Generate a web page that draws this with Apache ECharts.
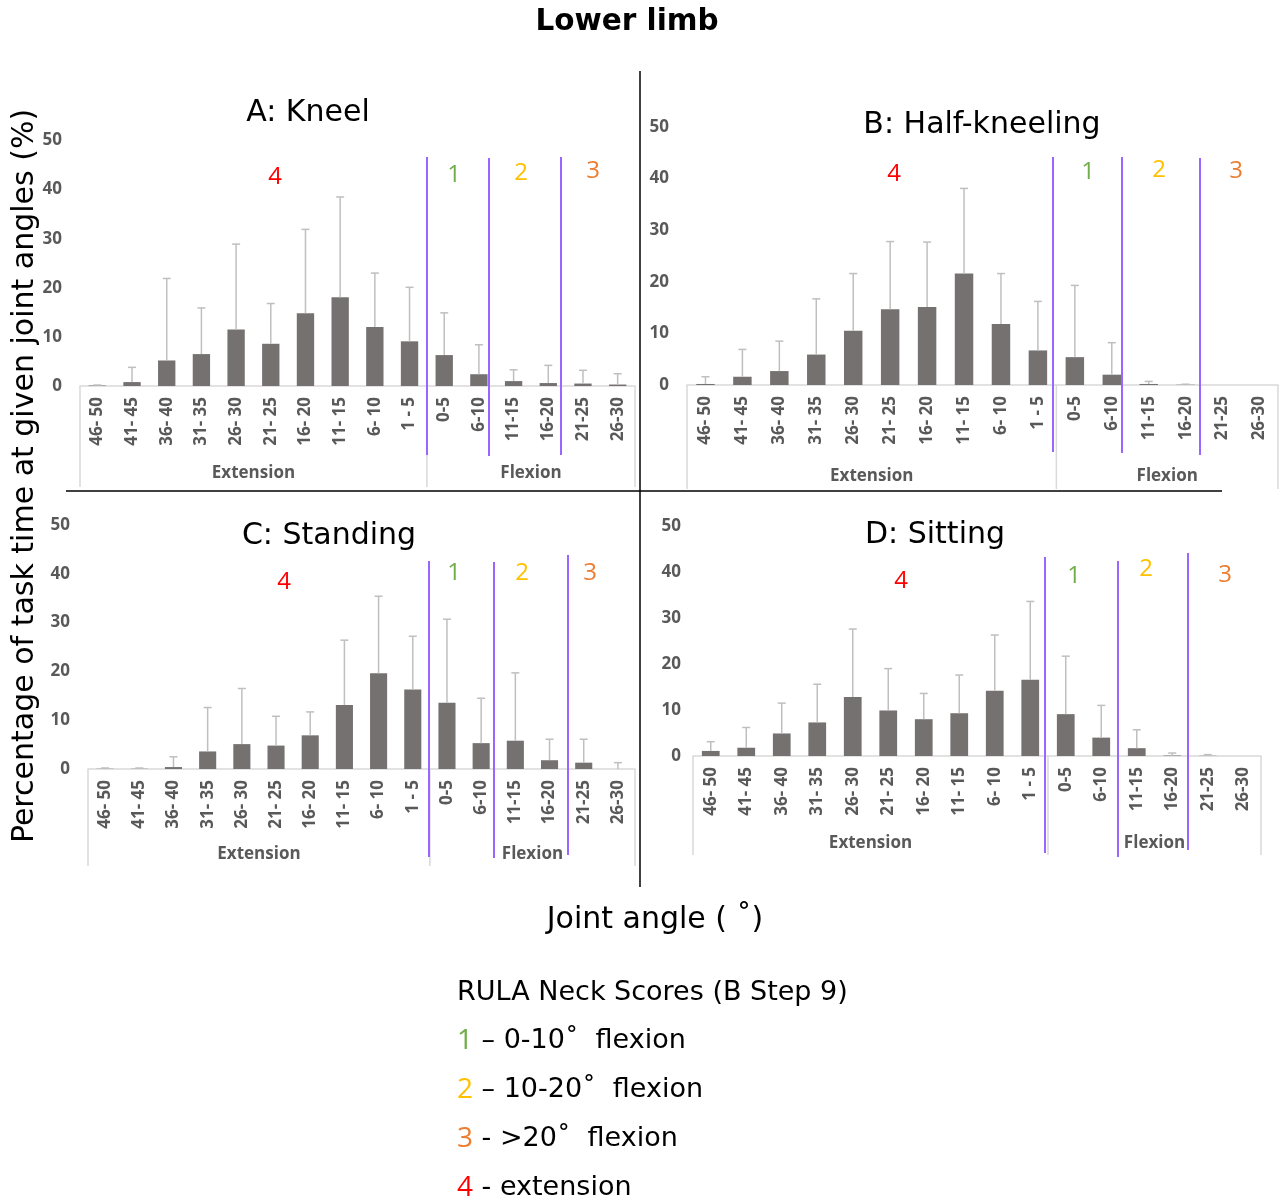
<!DOCTYPE html>
<html>
<head>
<meta charset="utf-8">
<script src="https://cdn.jsdelivr.net/npm/echarts@6/dist/echarts.min.js"></script>
<style>
  html, body { margin: 0; padding: 0; background: #ffffff; }
  #chart { width: 1284px; height: 1200px; }
</style>
</head>
<body>
<div id="chart"></div>
<script>
// ---------------- DATA ----------------
const categories = ['46- 50','41- 45','36- 40','31- 35','26- 30','21- 25','16- 20','11- 15','6- 10','1 - 5','0-5','6-10','11-15','16-20','21-25','26-30'];
const groupNames = ['Extension', 'Flexion'];
const groupRanges = [[0, 10], [10, 16]];
const yTicks = [0, 10, 20, 30, 40, 50];

const panelTitles = ['A: Kneel', 'B: Half-kneeling', 'C: Standing', 'D: Sitting'];

// mean % of task time
const kneelMean    = [0.1, 0.8, 5.2, 6.5, 11.5, 8.6, 14.8, 18.1, 12.0, 9.1, 6.3, 2.4, 1.0, 0.6, 0.5, 0.3];
// mean + SD (top of error bar)
const kneelTop     = [0.2, 3.8, 21.9, 15.9, 28.9, 16.8, 31.9, 38.5, 23.0, 20.1, 14.9, 8.4, 3.3, 4.2, 3.2, 2.5];

const halfMean     = [0.2, 1.6, 2.7, 5.9, 10.5, 14.7, 15.1, 21.6, 11.8, 6.7, 5.4, 2.0, 0.2, 0.05, 0, 0];
const halfTop      = [1.6, 6.9, 8.5, 16.7, 21.6, 27.8, 27.7, 38.1, 21.6, 16.2, 19.3, 8.2, 0.7, 0.15, 0, 0];

const standMean    = [0.05, 0.05, 0.4, 3.6, 5.1, 4.8, 6.9, 13.1, 19.6, 16.3, 13.6, 5.3, 5.8, 1.8, 1.3, 0];
const standTop     = [0.2, 0.2, 2.5, 12.6, 16.5, 10.8, 11.7, 26.4, 35.4, 27.2, 30.7, 14.5, 19.7, 6.1, 6.1, 1.3];

const sitMean      = [1.1, 1.8, 4.9, 7.3, 12.8, 9.9, 8.0, 9.3, 14.2, 16.6, 9.1, 4.0, 1.7, 0.1, 0.05, 0];
const sitTop       = [3.1, 6.2, 11.5, 15.6, 27.6, 19.0, 13.6, 17.6, 26.3, 33.6, 21.7, 11.0, 5.7, 0.65, 0.3, 0];

const means = [kneelMean, halfMean, standMean, sitMean];
const tops  = [kneelTop, halfTop, standTop, sitTop];

const scoreLabels = ['4', '1', '2', '3'];
const legendTitle = 'RULA Neck Scores (B Step 9)';
const legendLines = [
  ['1', ' \u2013 0-10\u02DA  flexion'],
  ['2', ' \u2013 10-20\u02DA  flexion'],
  ['3', ' - >20\u02DA  flexion'],
  ['4', ' - extension']
];

// ---------------- LAYOUT / STYLE ----------------
const COLORS = { bar: '#767171', err: '#bfbfbf', axis: '#d9d9d9', tick: '#595959', purple: '#9966ff',
  s1: '#70ad47', s2: '#ffc000', s3: '#ed7d31', s4: '#ff0000' };
const scoreColors = { '1': COLORS.s1, '2': COLORS.s2, '3': COLORS.s3, '4': COLORS.s4 };
const TF = 'Open Sans';
const VF = 'DejaVu Sans';

const layout = [
  { grid: { left: 80,  top: 140.5, width: 555, height: 245.5 }, depth: 101, lblOff: 87, title: [308, 113],
    nums: [[275,177],[454,175],[521,173],[593,171]], purple: [[427,157,455],[489,158,456],[561,157,455]] },
  { grid: { left: 687, top: 127,   width: 591, height: 258 },   depth: 104, lblOff: 91, title: [982, 125],
    nums: [[894,174],[1088,172],[1159,170],[1236,171]], purple: [[1053,157,452],[1122,157,453],[1200,158,455]] },
  { grid: { left: 88,  top: 525,   width: 547, height: 244 },   depth: 97,  lblOff: 85, title: [329, 536],
    nums: [[284,582],[454,573],[522,573],[590,573]], purple: [[429,561,857],[494,562,858],[568,555,855]] },
  { grid: { left: 693, top: 526,   width: 568, height: 230 },   depth: 99,  lblOff: 87, title: [935, 535],
    nums: [[901,581],[1074,576],[1146,569],[1225,575]], purple: [[1045,557,853],[1118,561,857],[1188,553,850]] }
];

// ---------------- BUILD OPTION ----------------
const grids = [], xAxes = [], yAxes = [], series = [], graphics = [];

layout.forEach((L, i) => {
  grids.push(Object.assign({ containLabel: false, outerBoundsMode: 'none' }, L.grid));
  xAxes.push({
    type: 'category', gridIndex: i, data: categories,
    axisLine: { show: true, lineStyle: { color: COLORS.axis, width: 1.5 } },
    axisTick: { show: false },
    axisLabel: { rotate: 90, margin: 11, color: COLORS.tick, fontFamily: TF, fontSize: 17, fontWeight: 'bold', interval: 0 },
    splitLine: { show: false }
  });
  yAxes.push({
    type: 'value', gridIndex: i, min: yTicks[0], max: yTicks[yTicks.length - 1], interval: yTicks[1] - yTicks[0],
    axisLine: { show: false }, axisTick: { show: false }, splitLine: { show: false },
    axisLabel: { margin: i === 3 ? 12 : 18, color: COLORS.tick, fontFamily: TF, fontSize: 17, fontWeight: 'bold' }
  });

  series.push({
    type: 'bar', xAxisIndex: i, yAxisIndex: i, data: means[i], barWidth: '50%',
    itemStyle: { color: COLORS.bar }, silent: true, z: 2
  });

  series.push({
    type: 'custom', xAxisIndex: i, yAxisIndex: i, silent: true, z: 3, clip: false,
    data: means[i].map((m, j) => [j, m, tops[i][j]]),
    renderItem: (params, api) => {
      const x = api.value(0), m = api.value(1), t = api.value(2);
      if (!(t > m)) return { type: 'group', children: [] };
      const p0 = api.coord([x, m]);
      const p1 = api.coord([x, t]);
      const half = 4;
      const st = { stroke: COLORS.err, lineWidth: 1.5 };
      return { type: 'group', children: [
        { type: 'line', shape: { x1: p0[0], y1: p0[1], x2: p1[0], y2: p1[1] }, style: st },
        { type: 'line', shape: { x1: p1[0] - half, y1: p1[1], x2: p1[0] + half, y2: p1[1] }, style: st }
      ]};
    }
  });

  // multi-level category axis (Extension / Flexion)
  series.push({
    type: 'custom', xAxisIndex: i, yAxisIndex: i, silent: true, z: 1, clip: false,
    data: groupRanges.map(r => [r[0], r[1]]),
    renderItem: (params, api) => {
      const s = api.value(0), e = api.value(1);
      const bw = api.size([1, 0])[0];
      const x0 = api.coord([s, 0])[0] - bw / 2;
      const x1 = api.coord([e - 1, 0])[0] + bw / 2;
      const y0 = api.coord([s, 0])[1];
      const st = { stroke: COLORS.axis, lineWidth: 1.5 };
      const ch = [
        { type: 'line', shape: { x1: x0, y1: y0, x2: x0, y2: y0 + L.depth }, style: st },
        { type: 'text', style: { text: groupNames[params.dataIndex], x: (x0 + x1) / 2, y: y0 + L.lblOff,
          align: 'center', verticalAlign: 'middle', fill: COLORS.tick, fontFamily: TF, fontSize: 17, fontWeight: 'bold' } }
      ];
      if (params.dataIndex === groupRanges.length - 1) {
        ch.push({ type: 'line', shape: { x1: x1, y1: y0, x2: x1, y2: y0 + L.depth }, style: st });
      }
      return { type: 'group', children: ch };
    }
  });

  // panel title
  graphics.push({ type: 'text', x: L.title[0], y: L.title[1], z: 10,
    style: { text: panelTitles[i], fill: '#000', fontFamily: VF, fontSize: 30,
      textAlign: 'center', textVerticalAlign: 'middle', align: 'center', verticalAlign: 'middle' } });

  // RULA score annotations
  L.nums.forEach((p, k) => {
    graphics.push({ type: 'text', x: p[0], y: p[1], z: 10,
      style: { text: scoreLabels[k], fill: scoreColors[scoreLabels[k]], fontFamily: TF, fontSize: 24,
        textAlign: 'center', textVerticalAlign: 'middle', align: 'center', verticalAlign: 'middle' } });
  });
  // purple separators
  L.purple.forEach(p => {
    graphics.push({ type: 'line', z: 10, shape: { x1: p[0], y1: p[1], x2: p[0], y2: p[2] },
      style: { stroke: COLORS.purple, lineWidth: 2 } });
  });
});

// dividing cross lines
graphics.push({ type: 'line', z: 5, shape: { x1: 640, y1: 71, x2: 640, y2: 887 }, style: { stroke: '#000', lineWidth: 1.5 } });
graphics.push({ type: 'line', z: 5, shape: { x1: 66, y1: 491, x2: 1222, y2: 491 }, style: { stroke: '#000', lineWidth: 1.5 } });

// main title
graphics.push({ type: 'text', x: 627, y: 22, z: 10,
  style: { text: 'Lower limb', fill: '#000', fontFamily: VF, fontSize: 29.5, fontWeight: 'bold',
    textAlign: 'center', textVerticalAlign: 'middle', align: 'center', verticalAlign: 'middle' } });

// y axis title
graphics.push({ type: 'text', x: 25, y: 476, rotation: Math.PI / 2, z: 10,
  style: { text: 'Percentage of task time at given joint angles (%)', fill: '#000', fontFamily: VF, fontSize: 30,
    textAlign: 'center', textVerticalAlign: 'middle', align: 'center', verticalAlign: 'middle' } });

// x axis title
graphics.push({ type: 'text', x: 655, y: 920, z: 10,
  style: { text: 'Joint angle ( \u02DA)', fill: '#000', fontFamily: VF, fontSize: 30,
    textAlign: 'center', textVerticalAlign: 'middle', align: 'center', verticalAlign: 'middle' } });

// legend block
const legendX = 457, legendY = [993, 1041, 1090, 1139, 1188];
graphics.push({ type: 'text', x: legendX, y: legendY[0], z: 10,
  style: { text: legendTitle, fill: '#000', fontFamily: VF, fontSize: 27,
    textAlign: 'left', textVerticalAlign: 'middle', align: 'left', verticalAlign: 'middle' } });
legendLines.forEach((ln, k) => {
  graphics.push({ type: 'text', x: legendX, y: legendY[k + 1], z: 10,
    style: {
      text: '{n|' + ln[0] + '}{t|' + ln[1] + '}',
      textAlign: 'left', textVerticalAlign: 'middle', align: 'left', verticalAlign: 'middle',
      rich: {
        n: { fill: scoreColors[ln[0]], color: scoreColors[ln[0]], fontFamily: TF, fontSize: 28 },
        t: { fill: '#000', color: '#000', fontFamily: VF, fontSize: 27 }
      }
    } });
});

const chart = echarts.init(document.getElementById('chart'), null, { renderer: 'canvas', width: 1284, height: 1200 });
chart.setOption({
  animation: false,
  backgroundColor: '#ffffff',
  grid: grids, xAxis: xAxes, yAxis: yAxes, series: series, graphic: graphics
});
</script>
</body>
</html>
